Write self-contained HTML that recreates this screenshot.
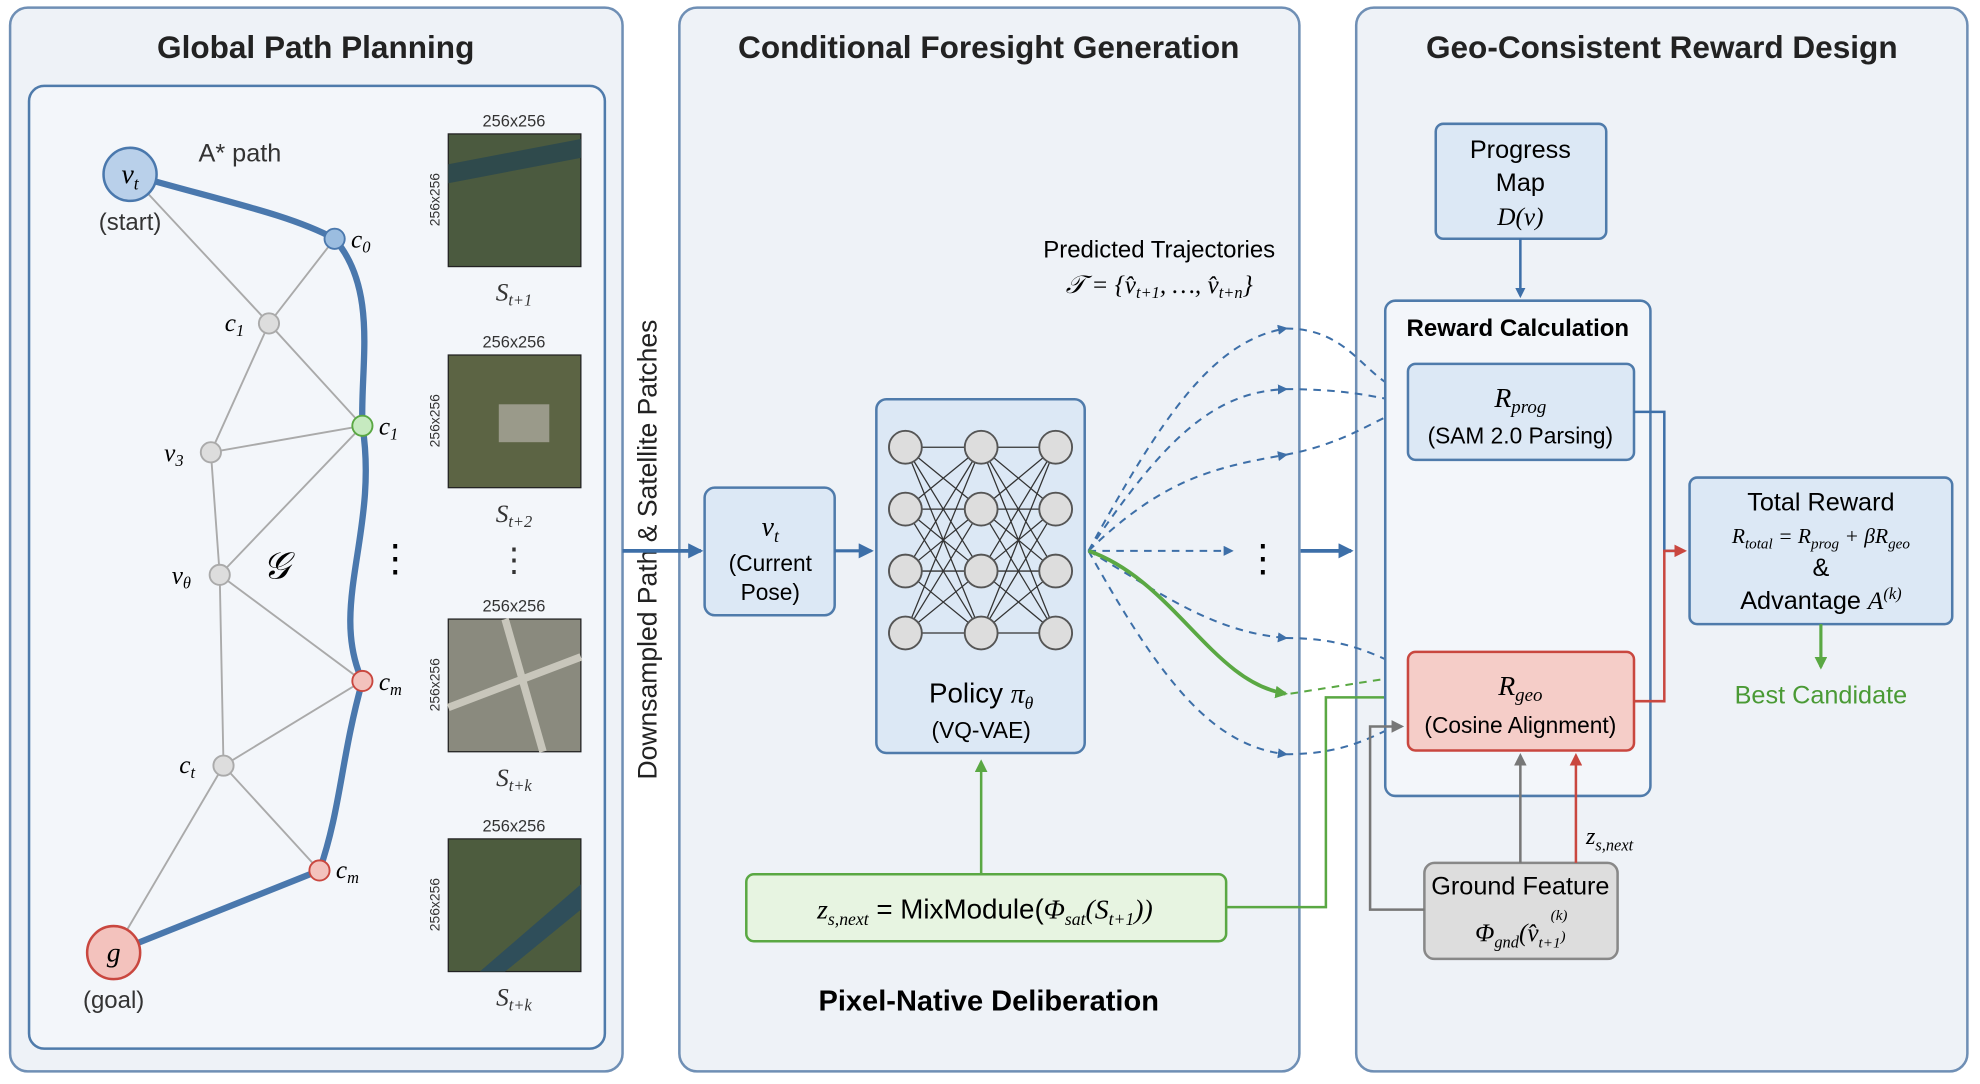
<!DOCTYPE html>
<html><head><meta charset="utf-8"><style>
html,body{margin:0;padding:0;background:#fff;}
svg{display:block}
text{font-family:"Liberation Sans",sans-serif;}
.m{font-family:"Liberation Serif",serif;font-style:italic;}
</style></head><body>
<svg width="1980" height="1084" viewBox="0 0 1568 858" preserveAspectRatio="none" xmlns="http://www.w3.org/2000/svg">
<defs>
<marker id="ab" markerWidth="8" markerHeight="8" refX="6" refY="4" orient="auto" markerUnits="userSpaceOnUse"><path d="M0,0 L8,4 L0,8z" fill="#3d6fa8"/></marker>
<marker id="ag" markerWidth="10" markerHeight="10" refX="8" refY="5" orient="auto" markerUnits="userSpaceOnUse"><path d="M0,0 L10,5 L0,10z" fill="#5aa843"/></marker>
<marker id="ar" markerWidth="10" markerHeight="10" refX="8" refY="5" orient="auto" markerUnits="userSpaceOnUse"><path d="M0,0 L10,5 L0,10z" fill="#c9473f"/></marker>
<marker id="ak" markerWidth="10" markerHeight="10" refX="8" refY="5" orient="auto" markerUnits="userSpaceOnUse"><path d="M0,0 L10,5 L0,10z" fill="#777"/></marker>
<marker id="ab2" markerWidth="12" markerHeight="12" refX="10" refY="6" orient="auto" markerUnits="userSpaceOnUse"><path d="M0,0 L12,6 L0,12z" fill="#3d6fa8"/></marker>
</defs>
<rect width="1568" height="858" fill="#fff"/>
<!-- panels -->
<rect x="8" y="6" width="485" height="842" rx="14" fill="#eef2f7" stroke="#6f8fb5" stroke-width="2"/>
<rect x="538" y="6" width="491" height="842" rx="14" fill="#eef2f7" stroke="#6f8fb5" stroke-width="2"/>
<rect x="1074" y="6" width="484" height="842" rx="14" fill="#eef2f7" stroke="#6f8fb5" stroke-width="2"/>
<text x="250" y="46" font-size="25" font-weight="bold" text-anchor="middle" fill="#222">Global Path Planning</text>
<text x="783" y="46" font-size="25" font-weight="bold" text-anchor="middle" fill="#222">Conditional Foresight Generation</text>
<text x="1316" y="46" font-size="25" font-weight="bold" text-anchor="middle" fill="#222">Geo-Consistent Reward Design</text>
<rect x="23" y="68" width="456" height="762" rx="12" fill="#f3f6fa" stroke="#4f7bab" stroke-width="2"/>
<!-- graph edges -->
<g stroke="#aaa" stroke-width="1.5" fill="none">
<path d="M103,138 L213,256 L287,337"/><path d="M265,189 L213,256 L167,358"/>
<path d="M167,358 L287,337 L174,455 L167,358"/><path d="M174,455 L287,539 L177,606 L174,455"/>
<path d="M177,606 L253,689"/><path d="M177,606 L90,754"/>
</g>
<path d="M103,138 C180,160 230,170 265,189 C300,230 285,290 287,337 C300,420 260,480 287,539 C270,600 270,640 253,689 L90,754" stroke="#4a78ad" stroke-width="5" fill="none"/>
<circle cx="103" cy="138" r="21" fill="#b9d0ea" stroke="#4a78ad" stroke-width="2"/>
<text x="103" y="145" class="m" font-size="22" text-anchor="middle">v<tspan font-size="14" dy="5">t</tspan></text>
<text x="103" y="182" font-size="19" text-anchor="middle" fill="#333">(start)</text>
<text x="190" y="128" font-size="20" text-anchor="middle" fill="#333">A* path</text>
<circle cx="265" cy="189" r="8" fill="#9bbde0" stroke="#4a78ad" stroke-width="1.5"/>
<text x="278" y="196" class="m" font-size="20">c<tspan font-size="13" dy="4">0</tspan></text>
<circle cx="213" cy="256" r="8" fill="#ddd" stroke="#aaa" stroke-width="1.5"/>
<text x="178" y="262" class="m" font-size="20">c<tspan font-size="13" dy="4">1</tspan></text>
<circle cx="287" cy="337" r="8" fill="#c6eac0" stroke="#5aa843" stroke-width="1.5"/>
<text x="300" y="344" class="m" font-size="20">c<tspan font-size="13" dy="4">1</tspan></text>
<circle cx="167" cy="358" r="8" fill="#ddd" stroke="#aaa" stroke-width="1.5"/>
<text x="130" y="365" class="m" font-size="20">v<tspan font-size="13" dy="4">3</tspan></text>
<circle cx="174" cy="455" r="8" fill="#ddd" stroke="#aaa" stroke-width="1.5"/>
<text x="136" y="462" class="m" font-size="20">v<tspan font-size="13" dy="4">θ</tspan></text>
<text x="208" y="458" class="m" font-size="30">𝒢</text>
<text x="313" y="452" font-size="30" text-anchor="middle">⋮</text>
<circle cx="287" cy="539" r="8" fill="#f3c2bd" stroke="#c9473f" stroke-width="1.5"/>
<text x="300" y="546" class="m" font-size="20">c<tspan font-size="13" dy="4">m</tspan></text>
<circle cx="177" cy="606" r="8" fill="#ddd" stroke="#aaa" stroke-width="1.5"/>
<text x="142" y="612" class="m" font-size="20">c<tspan font-size="13" dy="4">t</tspan></text>
<circle cx="253" cy="689" r="8" fill="#f3c2bd" stroke="#c9473f" stroke-width="1.5"/>
<text x="266" y="695" class="m" font-size="20">c<tspan font-size="13" dy="4">m</tspan></text>
<circle cx="90" cy="754" r="21" fill="#f3c2bd" stroke="#c9473f" stroke-width="2"/>
<text x="90" y="761" class="m" font-size="22" text-anchor="middle">g</text>
<text x="90" y="798" font-size="19" text-anchor="middle" fill="#333">(goal)</text>
<!-- satellite tiles -->
<g font-size="13" fill="#333">
<text x="407" y="100" text-anchor="middle">256x256</text>
<rect x="355" y="106" width="105" height="105" fill="#4b5a3f" stroke="#222"/>
<path d="M355,130 L460,110 L460,125 L355,145z" fill="#2f4a4c"/>
<text transform="translate(348,158) rotate(-90)" font-size="11" text-anchor="middle">256x256</text>
<text x="407" y="238" class="m" font-size="20" text-anchor="middle">S<tspan font-size="13" dy="4">t+1</tspan></text>
<text x="407" y="275" text-anchor="middle">256x256</text>
<rect x="355" y="281" width="105" height="105" fill="#5c6444" stroke="#222"/>
<rect x="395" y="320" width="40" height="30" fill="#9a9a8a"/>
<text transform="translate(348,333) rotate(-90)" font-size="11" text-anchor="middle">256x256</text>
<text x="407" y="413" class="m" font-size="20" text-anchor="middle">S<tspan font-size="13" dy="4">t+2</tspan></text>
<text x="407" y="452" font-size="26" text-anchor="middle">⋮</text>
<text x="407" y="484" text-anchor="middle">256x256</text>
<rect x="355" y="490" width="105" height="105" fill="#8a8a7e" stroke="#222"/>
<path d="M355,560 L460,520 M400,490 L430,595" stroke="#c8c6bb" stroke-width="6"/>
<text transform="translate(348,542) rotate(-90)" font-size="11" text-anchor="middle">256x256</text>
<text x="407" y="622" class="m" font-size="20" text-anchor="middle">S<tspan font-size="13" dy="4">t+k</tspan></text>
<text x="407" y="658" text-anchor="middle">256x256</text>
<rect x="355" y="664" width="105" height="105" fill="#4d5c3e" stroke="#222"/>
<path d="M380,769 L460,700 L460,720 L400,769z" fill="#2f4e5a"/>
<text transform="translate(348,716) rotate(-90)" font-size="11" text-anchor="middle">256x256</text>
<text x="407" y="796" class="m" font-size="20" text-anchor="middle">S<tspan font-size="13" dy="4">t+k</tspan></text>
</g>
<text transform="translate(520,435) rotate(-90)" font-size="21" text-anchor="middle" fill="#222">Downsampled Path &amp; Satellite Patches</text>
<!-- middle -->
<path d="M493,436 L555,436" stroke="#3d6fa8" stroke-width="3" marker-end="url(#ab2)"/>
<rect x="558" y="386" width="103" height="101" rx="8" fill="#dce8f5" stroke="#4f7bab" stroke-width="2"/>
<text x="610" y="424" class="m" font-size="22" text-anchor="middle">v<tspan font-size="14" dy="5">t</tspan></text>
<text x="610" y="452" font-size="18" text-anchor="middle">(Current</text>
<text x="610" y="475" font-size="18" text-anchor="middle">Pose)</text>
<path d="M661,436 L690,436" stroke="#3d6fa8" stroke-width="2.5" marker-end="url(#ab2)"/>
<rect x="694" y="316" width="165" height="280" rx="8" fill="#dce8f5" stroke="#4f7bab" stroke-width="2"/>
<g stroke="#333" stroke-width="1" fill="none">
<path d="M717,354L777,354M717,354L777,403M717,354L777,452M717,354L777,501
M717,403L777,354M717,403L777,403M717,403L777,452M717,403L777,501
M717,452L777,354M717,452L777,403M717,452L777,452M717,452L777,501
M717,501L777,354M717,501L777,403M717,501L777,452M717,501L777,501
M777,354L836,354M777,354L836,403M777,354L836,452M777,354L836,501
M777,403L836,354M777,403L836,403M777,403L836,452M777,403L836,501
M777,452L836,354M777,452L836,403M777,452L836,452M777,452L836,501
M777,501L836,354M777,501L836,403M777,501L836,452M777,501L836,501"/>
</g>
<g fill="#ddd" stroke="#555" stroke-width="1.5">
<circle cx="717" cy="354" r="13"/><circle cx="717" cy="403" r="13"/><circle cx="717" cy="452" r="13"/><circle cx="717" cy="501" r="13"/>
<circle cx="777" cy="354" r="13"/><circle cx="777" cy="403" r="13"/><circle cx="777" cy="452" r="13"/><circle cx="777" cy="501" r="13"/>
<circle cx="836" cy="354" r="13"/><circle cx="836" cy="403" r="13"/><circle cx="836" cy="452" r="13"/><circle cx="836" cy="501" r="13"/>
</g>
<text x="777" y="556" font-size="22" text-anchor="middle">Policy <tspan class="m">π<tspan font-size="14" dy="5">θ</tspan></tspan></text>
<text x="777" y="584" font-size="18" text-anchor="middle">(VQ-VAE)</text>
<text x="918" y="204" font-size="19" text-anchor="middle">Predicted Trajectories</text>
<text x="918" y="232" class="m" font-size="20" text-anchor="middle">𝒯 = {v̂<tspan font-size="13" dy="4">t+1</tspan><tspan dy="-4">, …, v̂</tspan><tspan font-size="13" dy="4">t+n</tspan><tspan dy="-4">}</tspan></text>
<g stroke="#3d6fa8" stroke-width="1.6" fill="none" stroke-dasharray="6,5">
<path d="M862,436 C920,330 960,270 1018,260" marker-end="url(#ab)"/>
<path d="M862,436 C920,350 960,310 1018,308" marker-end="url(#ab)"/>
<path d="M862,436 C920,380 960,370 1018,360" marker-end="url(#ab)"/>
<path d="M862,436 L975,436" marker-end="url(#ab)"/>
<path d="M862,436 C920,470 960,500 1018,505" marker-end="url(#ab)"/>
<path d="M862,436 C920,540 960,590 1018,597" marker-end="url(#ab)"/>
<path d="M1018,260 C1070,260 1080,300 1112,310" marker-end="url(#ab)"/>
<path d="M1018,308 C1070,308 1090,315 1112,318" marker-end="url(#ab)"/>
<path d="M1018,360 C1070,350 1090,330 1112,325" marker-end="url(#ab)"/>
<path d="M1018,505 C1070,505 1090,520 1112,528" marker-end="url(#ab)"/>
<path d="M1018,597 C1070,597 1090,580 1112,572" marker-end="url(#ab)"/>
</g>
<path d="M862,436 C930,460 960,540 1018,549" stroke="#5aa843" stroke-width="3" fill="none" marker-end="url(#ag)"/>
<path d="M1022,549 L1112,535" stroke="#5aa843" stroke-width="1.6" stroke-dasharray="6,5" marker-end="url(#ag)"/>
<text x="1000" y="452" font-size="30" text-anchor="middle">⋮</text>
<path d="M1030,436 L1070,436" stroke="#3d6fa8" stroke-width="3" marker-end="url(#ab2)"/>
<rect x="591" y="692" width="380" height="53" rx="6" fill="#e7f4e1" stroke="#5aa843" stroke-width="2"/>
<text x="780" y="727" font-size="22" text-anchor="middle"><tspan class="m">z<tspan font-size="14" dy="5">s,next</tspan></tspan><tspan dy="-5"> = MixModule(</tspan><tspan class="m">Φ<tspan font-size="14" dy="5">sat</tspan><tspan dy="-5">(S</tspan><tspan font-size="14" dy="5">t+1</tspan><tspan dy="-5">))</tspan></tspan></text>
<path d="M777,692 L777,603" stroke="#5aa843" stroke-width="2" marker-end="url(#ag)"/>
<path d="M971,718 L1050,718 L1050,552 L1110,552" stroke="#5aa843" stroke-width="2" fill="none" marker-end="url(#ag)"/>
<text x="783" y="800" font-size="23" font-weight="bold" text-anchor="middle">Pixel-Native Deliberation</text>
<!-- right -->
<rect x="1137" y="98" width="135" height="91" rx="6" fill="#dce8f5" stroke="#4f7bab" stroke-width="2"/>
<text x="1204" y="125" font-size="20" text-anchor="middle">Progress</text>
<text x="1204" y="151" font-size="20" text-anchor="middle">Map</text>
<text x="1204" y="178" class="m" font-size="20" text-anchor="middle">D(v)</text>
<path d="M1204,189 L1204,234" stroke="#3d6fa8" stroke-width="2" marker-end="url(#ab)"/>
<rect x="1097" y="238" width="210" height="392" rx="8" fill="#f3f6fa" stroke="#4f7bab" stroke-width="2"/>
<text x="1202" y="266" font-size="19" font-weight="bold" text-anchor="middle">Reward Calculation</text>
<rect x="1115" y="288" width="179" height="76" rx="6" fill="#dce8f5" stroke="#4f7bab" stroke-width="2"/>
<text x="1204" y="322" class="m" font-size="22" text-anchor="middle">R<tspan font-size="15" dy="5">prog</tspan></text>
<text x="1204" y="351" font-size="18" text-anchor="middle">(SAM 2.0 Parsing)</text>
<rect x="1115" y="516" width="179" height="78" rx="6" fill="#f5cdc8" stroke="#c9473f" stroke-width="2"/>
<text x="1204" y="550" class="m" font-size="22" text-anchor="middle">R<tspan font-size="15" dy="5">geo</tspan></text>
<text x="1204" y="580" font-size="18" text-anchor="middle">(Cosine Alignment)</text>
<path d="M1294,326 L1318,326 L1318,436 L1334,436" stroke="#3d6fa8" stroke-width="2" fill="none"/>
<path d="M1294,555 L1318,555 L1318,436 L1334,436" stroke="#c9473f" stroke-width="2" fill="none" marker-end="url(#ar)"/>
<rect x="1338" y="378" width="208" height="116" rx="6" fill="#dce8f5" stroke="#4f7bab" stroke-width="2"/>
<text x="1442" y="404" font-size="20" text-anchor="middle">Total Reward</text>
<text x="1442" y="430" class="m" font-size="17" text-anchor="middle">R<tspan font-size="12" dy="4">total</tspan><tspan dy="-4"> = R</tspan><tspan font-size="12" dy="4">prog</tspan><tspan dy="-4"> + βR</tspan><tspan font-size="12" dy="4">geo</tspan></text>
<text x="1442" y="456" font-size="20" text-anchor="middle">&amp;</text>
<text x="1442" y="482" font-size="20" text-anchor="middle">Advantage <tspan class="m">A<tspan font-size="13" dy="-8">(k)</tspan></tspan></text>
<path d="M1442,494 L1442,528" stroke="#5aa843" stroke-width="2.5" marker-end="url(#ag)"/>
<text x="1442" y="557" font-size="20" fill="#4a9a35" text-anchor="middle">Best Candidate</text>
<rect x="1128" y="683" width="153" height="76" rx="8" fill="#ddd" stroke="#888" stroke-width="2"/>
<text x="1204" y="708" font-size="20" text-anchor="middle">Ground Feature</text>
<text x="1204" y="745" class="m" font-size="20" text-anchor="middle">Φ<tspan font-size="13" dy="5">gnd</tspan><tspan dy="-5">(v̂</tspan><tspan font-size="12" dy="5">t+1</tspan><tspan font-size="12" dy="-5">)</tspan></text>
<text x="1228" y="728" class="m" font-size="12">(k)</text>
<path d="M1204,683 L1204,598" stroke="#777" stroke-width="2" marker-end="url(#ak)"/>
<path d="M1248,683 L1248,598" stroke="#c9473f" stroke-width="2" marker-end="url(#ar)"/>
<text x="1256" y="668" class="m" font-size="19">z<tspan font-size="13" dy="5">s,next</tspan></text>
<path d="M1128,720 L1085,720 L1085,575 L1110,575" stroke="#777" stroke-width="2" fill="none" marker-end="url(#ak)"/>
</svg>
</body></html>
